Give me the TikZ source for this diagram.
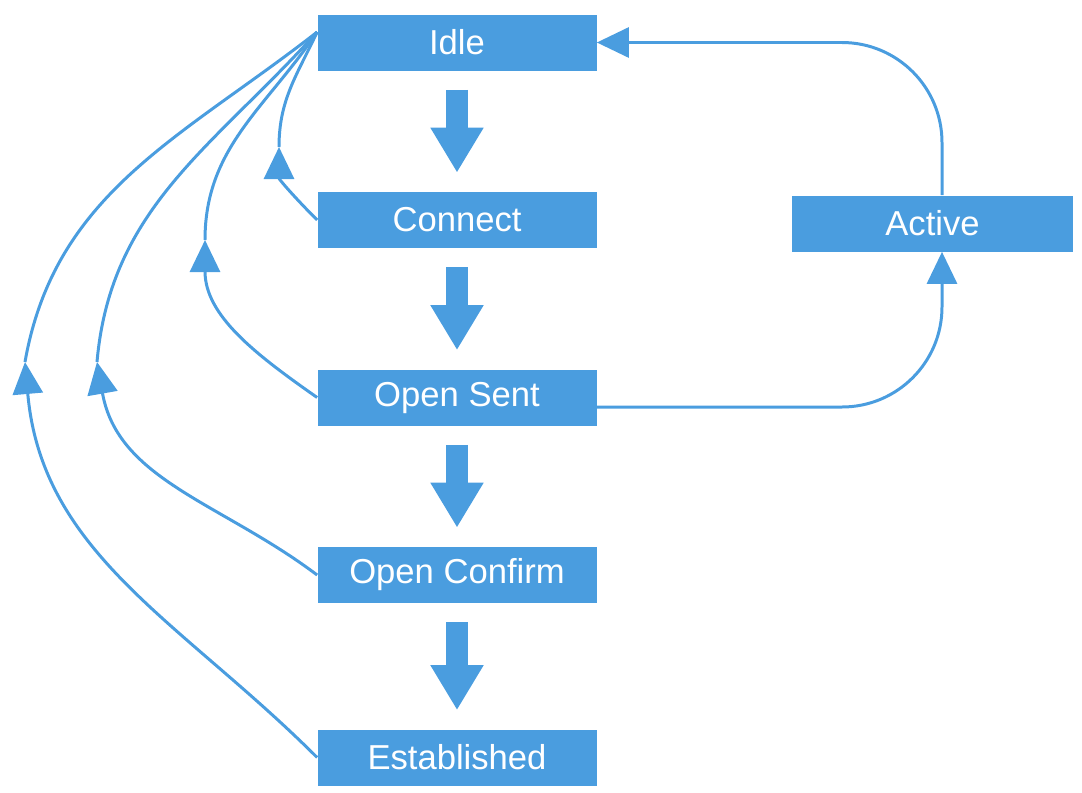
\documentclass[tikz,border=0pt]{standalone}
\usepackage{fontspec}
\setmainfont{Liberation Sans}
\usepackage{xcolor}
\usepackage{tikz}
\usetikzlibrary{arrows.meta,positioning,calc}
\definecolor{bgpblue}{HTML}{4A9DDF}
\tikzset{
  state/.style={fill=bgpblue,text=white,minimum width=5.58cm,minimum height=1.12cm,inner sep=0pt,
    font=\fontsize{19.7}{24}\selectfont},
  advance/.style={-{Triangle[length=9mm,width=10mm]},line width=4.4mm,color=bgpblue},
  link/.style={line width=1.7pt,color=bgpblue},
  back/.style={-{Triangle[length=6.4mm,width=6mm]},line width=1.7pt,color=bgpblue},
}

\begin{document}
\begin{tikzpicture}[x=1cm,y=1cm]
  \useasboundingbox (0,0) rectangle (21.64,-15.84);

  \node[state] (idle) at (9.14,-0.85) {Idle};
  \node[state] (connect) at (9.14,-4.40) {Connect};
  \node[state] (opensent) at (9.14,-7.95) {Open Sent};
  \node[state] (openconfirm) at (9.14,-11.50) {Open Confirm};
  \node[state] (established) at (9.14,-15.15) {Established};
  \node[state,minimum width=5.62cm] (active) at (18.65,-4.47) {Active};

  % forward steps
  \draw[advance] ([yshift=-3.8mm]idle.south)--([yshift=3.8mm]connect.north);
  \draw[advance] ([yshift=-3.8mm]connect.south)--([yshift=3.8mm]opensent.north);
  \draw[advance] ([yshift=-3.8mm]opensent.south)--([yshift=3.8mm]openconfirm.north);
  \draw[advance] ([yshift=-3.8mm]openconfirm.south)--([yshift=3.8mm]established.north);

  % fall back to idle
  \coordinate (hub) at ([yshift=2.1mm]idle.west);
  \coordinate (t1) at (5.58,-2.94);
  \coordinate (t2) at (4.10,-4.80);
  \coordinate (t3) at (1.94,-7.24);
  \coordinate (t4) at (0.50,-7.24);
  \draw[back] (connect.west) to[out=135,in=270] (t1);
  \draw[link] (t1) to[out=90,in=245] (hub);
  \draw[back] (opensent.west) to[out=145,in=270] (t2);
  \draw[link] (t2) to[out=90,in=236] (hub);
  \draw[back] (openconfirm.west) to[out=143,in=280] (t3);
  \draw[link] (t3) to[out=85,in=228] (hub);
  \draw[back] (established.west) to[out=135,in=275] (t4);
  \draw[link] (t4) to[out=80,in=218] (hub);

  % active loop
  \draw[back,rounded corners=2cm] ([yshift=-1.9mm]opensent.east) -| ([xshift=1.9mm]active.south);
  \draw[back,rounded corners=2cm] ([xshift=1.9mm]active.north) |- (idle.east);
\end{tikzpicture}
\end{document}
